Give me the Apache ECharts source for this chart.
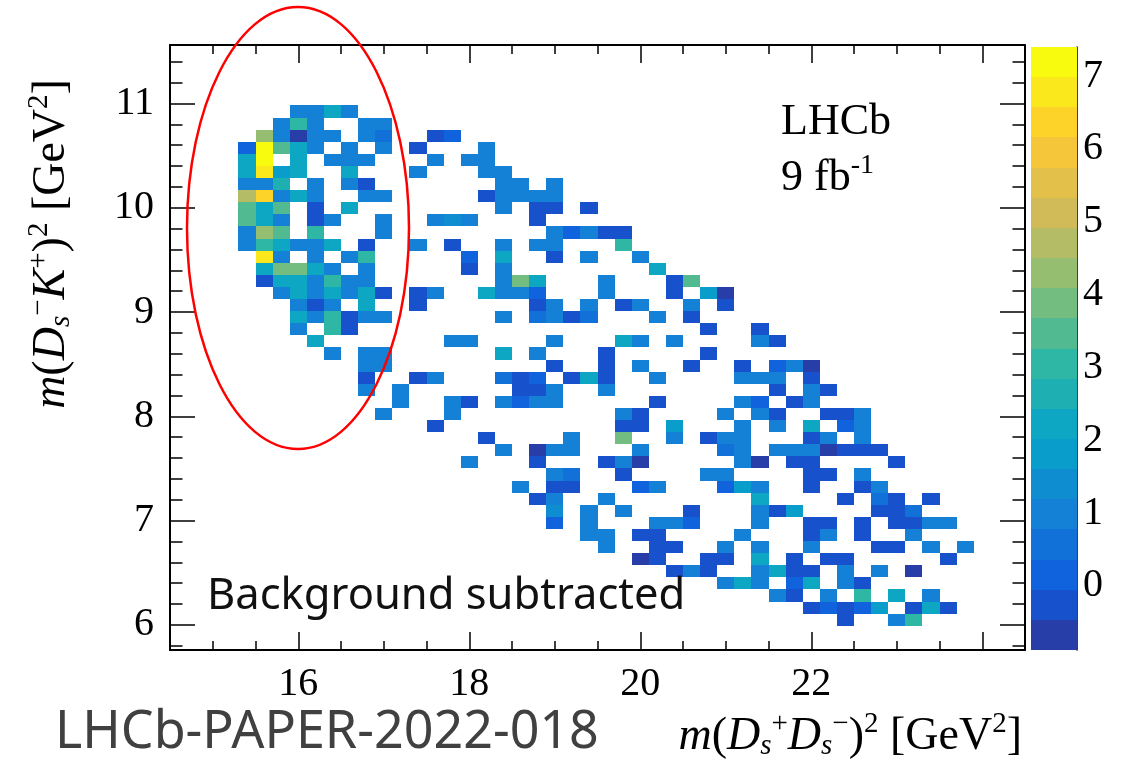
<!DOCTYPE html>
<html><head><meta charset="utf-8">
<script src="https://cdn.jsdelivr.net/npm/echarts@6/dist/echarts.min.js"></script>
<style>html,body{margin:0;padding:0;background:#fff}#c{width:1127px;height:762px}</style>
</head><body><div id="c"></div>
<script>
// ---------------- data ----------------
const X_RANGE = [14.5, 24.5];         // m^2(Ds+Ds-) axis range [GeV^2]
const Y_RANGE = [5.76, 11.56];        // m^2(Ds-K+) axis range [GeV^2]
const N_BINS_X = 50, N_BINS_Y = 50;
const Z_RANGE = [-0.88, 7.40];
const N_CONTOURS = 20;
const xTickLabels = [16, 18, 20, 22];
const xMajorTicks = [16, 18, 20, 22, 24];
const yTickLabels = [6, 7, 8, 9, 10, 11];
const zTickLabels = [0, 1, 2, 3, 4, 5, 6, 7];
const TOP_Y_BIN = 44;  // y-bin index of the first row below
// each row: [x-bin index, bin content], rows from y-bin 44 down to y-bin 2
const binContents = [
 [[7,1.0],[8,1.0],[9,2.2],[10,1.0]],
 [[6,1.0],[7,3.0],[8,1.0],[11,1.0],[12,1.0]],
 [[5,4.3],[6,1.0],[7,-0.6],[8,1.0],[9,1.0],[11,1.0],[12,0.6],[15,-0.3],[16,0.2]],
 [[4,0.2],[5,7.2],[6,3.4],[7,2.2],[8,1.0],[10,1.0],[12,1.0],[14,-0.3],[18,1.0]],
 [[4,2.2],[5,7.1],[7,2.2],[9,1.0],[10,1.0],[11,1.0],[15,1.0],[17,1.0],[18,1.0]],
 [[4,2.2],[5,6.7],[6,1.8],[7,2.2],[10,2.2],[14,1.0],[18,1.0],[19,1.0]],
 [[4,1.0],[5,1.0],[6,2.6],[8,1.0],[10,1.0],[11,-0.3],[19,1.0],[20,1.0],[22,1.0]],
 [[4,4.8],[5,6.3],[6,1.0],[7,2.2],[8,1.0],[11,1.0],[12,1.0],[18,-0.3],[19,1.0],[20,1.0],[21,1.0],[22,1.0]],
 [[4,3.6],[5,2.2],[6,3.4],[8,-0.3],[10,2.2],[19,1.0],[21,-0.3],[22,-0.3],[24,-0.3]],
 [[4,3.4],[5,2.2],[6,1.0],[8,-0.3],[9,1.0],[12,1.0],[15,1.0],[16,1.4],[17,1.0],[21,-0.3]],
 [[4,1.0],[5,4.3],[6,3.5],[8,3.0],[12,1.0],[22,1.0],[23,0.2],[24,1.0],[25,-0.3],[26,-0.3]],
 [[4,1.0],[5,3.0],[6,2.2],[7,1.0],[8,1.0],[9,2.2],[11,-0.3],[14,1.0],[16,-0.3],[19,1.0],[21,1.0],[22,1.0],[26,3.0]],
 [[5,6.8],[6,1.0],[8,1.0],[10,1.0],[11,3.0],[17,0.2],[19,2.2],[22,-0.3],[24,1.0],[27,1.0]],
 [[5,2.2],[6,3.8],[7,3.8],[8,2.2],[9,1.0],[11,1.0],[17,-0.3],[19,1.0],[28,2.2]],
 [[5,-0.3],[6,2.2],[7,2.2],[8,1.0],[9,3.0],[10,1.0],[11,1.0],[19,1.0],[20,3.7],[21,2.2],[25,1.0],[29,-0.3],[30,3.4]],
 [[6,1.0],[7,2.2],[8,1.0],[9,2.2],[10,1.0],[11,2.2],[12,-0.3],[14,-0.3],[15,1.0],[18,2.2],[19,1.0],[20,1.0],[21,0.2],[25,1.0],[29,-0.3],[31,1.8],[32,-0.6]],
 [[7,1.0],[8,-0.3],[9,1.0],[11,2.2],[14,-0.3],[21,-0.3],[22,1.0],[24,1.0],[26,-0.3],[27,1.0],[30,1.0],[32,-0.3]],
 [[7,2.2],[8,1.0],[9,3.0],[10,-0.3],[11,1.0],[12,1.0],[19,1.0],[21,0.6],[22,1.0],[23,-0.3],[24,0.6],[28,1.0],[30,-0.3]],
 [[7,1.0],[9,3.0],[10,-0.3],[31,-0.3],[34,-0.3]],
 [[8,2.2],[16,1.0],[17,1.0],[22,1.0],[26,2.2],[27,1.0],[29,1.0],[34,1.0],[35,-0.3]],
 [[9,1.0],[11,1.0],[12,1.0],[19,2.2],[21,1.0],[25,-0.3],[31,-0.3]],
 [[11,1.0],[12,1.0],[22,-0.3],[25,-0.3],[27,1.0],[30,-0.3],[33,-0.3],[35,0.2],[36,1.0],[37,-0.6]],
 [[11,-0.3],[14,-0.3],[15,1.0],[19,0.6],[20,-0.3],[21,0.2],[23,-0.3],[24,2.2],[25,-0.3],[28,1.0],[33,1.0],[34,1.0],[35,1.0],[37,-0.3]],
 [[11,1.0],[13,1.0],[20,-0.3],[21,-0.3],[22,1.0],[25,1.0],[35,-0.3],[37,1.0],[38,-0.3]],
 [[13,1.0],[16,1.0],[17,-0.3],[19,1.0],[20,0.2],[21,1.0],[22,1.0],[28,-0.3],[33,1.0],[34,0.2],[36,-0.3],[37,1.0]],
 [[12,1.0],[16,1.0],[26,1.0],[27,-0.3],[32,1.0],[34,1.0],[35,-0.3],[38,-0.3],[39,-0.3],[40,1.0]],
 [[15,-0.3],[26,-0.3],[27,-0.3],[29,1.8],[33,1.0],[35,1.0],[37,2.2],[39,0.2],[40,1.0]],
 [[18,-0.3],[23,1.0],[26,3.7],[29,1.0],[31,-0.3],[32,1.0],[33,1.0],[37,-0.3],[38,1.0],[40,1.0]],
 [[19,1.0],[21,-0.6],[22,1.0],[23,1.0],[27,1.0],[32,0.6],[33,1.0],[35,1.0],[36,1.0],[37,1.0],[38,-0.6],[39,-0.3],[40,-0.3],[41,-0.3]],
 [[17,1.0],[21,-0.3],[25,-0.3],[26,1.0],[27,-0.6],[33,1.0],[34,-0.6],[36,-0.3],[37,-0.3],[42,-0.3]],
 [[22,1.0],[23,0.6],[26,-0.3],[31,1.0],[32,1.0],[37,-0.3],[38,-0.3],[40,1.0]],
 [[20,1.0],[22,-0.3],[23,-0.3],[27,0.2],[28,1.0],[32,0.2],[33,1.8],[34,1.0],[37,-0.3],[40,-0.3],[41,1.0]],
 [[21,-0.3],[22,1.0],[25,1.0],[34,2.2],[39,-0.3],[41,0.6],[42,-0.3],[44,-0.3]],
 [[22,1.4],[24,1.0],[26,1.0],[30,-0.3],[34,1.0],[35,-0.3],[36,1.8],[41,-0.3],[42,-0.3],[43,0.6]],
 [[22,0.2],[24,1.0],[28,1.0],[29,1.0],[30,0.2],[34,1.0],[37,-0.3],[38,-0.3],[40,-0.3],[42,-0.3],[43,-0.3],[44,1.0],[45,1.0]],
 [[24,1.0],[25,1.0],[27,-0.3],[28,-0.3],[33,1.0],[37,-0.3],[38,1.0],[40,-0.3],[43,1.0]],
 [[25,1.0],[28,-0.3],[29,-0.3],[32,1.0],[34,1.0],[37,1.0],[41,-0.3],[42,-0.3],[44,1.0],[46,1.0]],
 [[27,-0.6],[28,-0.3],[31,-0.3],[32,-0.3],[34,2.2],[36,-0.3],[38,-0.3],[39,-0.3],[45,-0.3]],
 [[29,-0.3],[30,1.0],[31,-0.3],[34,1.0],[35,2.2],[36,-0.3],[37,-0.3],[39,1.0],[41,1.0],[43,-0.6]],
 [[32,1.0],[33,2.2],[34,1.0],[36,0.2],[37,2.4],[39,1.0],[40,-0.3]],
 [[35,1.0],[36,-0.3],[38,1.0],[40,3.0],[42,2.2],[44,1.0]],
 [[37,-0.3],[38,0.2],[39,-0.3],[40,0.2],[41,1.8],[43,-0.3],[44,2.2],[45,-0.3]],
 [[39,-0.3],[42,1.0],[43,3.0]]
];

// ---------------- helpers ----------------
const DX = (X_RANGE[1] - X_RANGE[0]) / N_BINS_X;
const DY = (Y_RANGE[1] - Y_RANGE[0]) / N_BINS_Y;
const cells = [];
binContents.forEach((row, k) => {
  const yb = TOP_Y_BIN - k;
  row.forEach(([xb, z]) => {
    cells.push([X_RANGE[0] + xb * DX, Y_RANGE[0] + yb * DY,
                X_RANGE[0] + (xb + 1) * DX, Y_RANGE[0] + (yb + 1) * DY, z]);
  });
});

// ROOT kBird palette
const birdStops = [0, 0.125, 0.25, 0.375, 0.5, 0.625, 0.75, 0.875, 1];
const birdR = [0.2082, 0.0592, 0.0780, 0.0232, 0.1802, 0.5301, 0.8186, 0.9956, 0.9764];
const birdG = [0.1664, 0.3599, 0.5041, 0.6419, 0.7178, 0.7492, 0.7328, 0.7862, 0.9832];
const birdB = [0.5293, 0.8684, 0.8385, 0.7914, 0.6425, 0.4662, 0.3499, 0.1968, 0.0539];
function bird(f) {
  let i = 0;
  while (i < birdStops.length - 2 && f > birdStops[i + 1]) i++;
  const t = (f - birdStops[i]) / (birdStops[i + 1] - birdStops[i]);
  const c = a => Math.round(255 * (a[i] + (a[i + 1] - a[i]) * t));
  return 'rgb(' + c(birdR) + ',' + c(birdG) + ',' + c(birdB) + ')';
}
const DZ = (Z_RANGE[1] - Z_RANGE[0]) / N_CONTOURS;
const bands = [];
for (let k = 0; k < N_CONTOURS; k++) {
  const idx = Math.floor((k + 0.99) * 255 / N_CONTOURS);
  bands.push({ lo: Z_RANGE[0] + k * DZ, hi: Z_RANGE[0] + (k + 1) * DZ, color: bird(Math.min(1, idx / 254)) });
}
const barData = bands.map(b => [0, b.lo, 1, b.hi, (b.lo + b.hi) / 2]);

function minorTicks(lo, hi, step, majors) {
  const out = [];
  for (let v = Math.ceil(lo / step - 1e-9) * step; v <= hi + 1e-9; v += step) {
    const r = Math.round(v * 1000) / 1000;
    if (r <= lo + 1e-6 || r >= hi - 1e-6) continue;
    if (!majors.some(m => Math.abs(m - r) < 1e-6)) out.push(r);
  }
  return out;
}
const xMinor = minorTicks(X_RANGE[0], X_RANGE[1], 0.5, xMajorTicks);
const yMinor = minorTicks(Y_RANGE[0], Y_RANGE[1], 0.2, yTickLabels);

const SERIF = 'Liberation Serif';
const BLACK = '#000';

function xAx(pos, ticks, len, withLine, labels) {
  return {
    gridIndex: 0, type: 'value', position: pos, min: X_RANGE[0], max: X_RANGE[1],
    axisLine: { show: withLine, onZero: false, lineStyle: { color: BLACK, width: 2 } },
    axisTick: { show: true, inside: true, length: len, customValues: ticks, lineStyle: { color: BLACK, width: 1.5 } },
    axisLabel: labels ? { show: true, customValues: labels, margin: 14, fontFamily: SERIF, fontSize: 40, color: BLACK } : { show: false },
    splitLine: { show: false }
  };
}
function yAx(pos, ticks, len, withLine, labels) {
  return {
    gridIndex: 0, type: 'value', position: pos, min: Y_RANGE[0], max: Y_RANGE[1],
    axisLine: { show: withLine, onZero: false, lineStyle: { color: BLACK, width: 2 } },
    axisTick: { show: true, inside: true, length: len, customValues: ticks, lineStyle: { color: BLACK, width: 1.5 } },
    axisLabel: labels ? { show: true, customValues: labels, margin: 16, fontFamily: SERIF, fontSize: 40, color: BLACK } : { show: false },
    splitLine: { show: false }
  };
}

function renderRect(params, api) {
  const a = api.coord([api.value(0), api.value(3)]);
  const b = api.coord([api.value(2), api.value(1)]);
  const x0 = Math.round(a[0]), y0 = Math.round(a[1]);
  const x1 = Math.round(b[0]), y1 = Math.round(b[1]);
  return { type: 'rect', shape: { x: x0, y: y0, width: x1 - x0, height: y1 - y0 },
           style: { fill: api.visual('color') } };
}

const titleRich = {
  it: { fontFamily: SERIF, fontStyle: 'italic', fontSize: 46, color: BLACK },
  n: { fontFamily: SERIF, fontSize: 46, color: BLACK },
  sub: { fontFamily: SERIF, fontStyle: 'italic', fontSize: 29, color: BLACK, padding: [18, 0, 0, 0] },
  sup: { fontFamily: SERIF, fontSize: 29, color: BLACK, padding: [0, 0, 26, 0] }
};

const chart = echarts.init(document.getElementById('c'), null, { renderer: 'canvas' });
chart.setOption({
  animation: false,
  backgroundColor: '#fff',
  grid: [
    { left: 170, top: 45, width: 855, height: 605, containLabel: false },
    { left: 1031, top: 47, width: 46, height: 603, containLabel: false }
  ],
  xAxis: [
    xAx('bottom', xMajorTicks, 18, true, xTickLabels),
    xAx('bottom', xMinor, 9, false, null),
    xAx('top', xMajorTicks, 18, true, null),
    xAx('top', xMinor, 9, false, null),
    { gridIndex: 1, type: 'value', min: 0, max: 1, show: false }
  ],
  yAxis: [
    yAx('left', yTickLabels, 25, true, yTickLabels),
    yAx('left', yMinor, 12.5, false, null),
    yAx('right', yTickLabels, 25, true, null),
    yAx('right', yMinor, 12.5, false, null),
    {
      gridIndex: 1, type: 'value', position: 'right', min: Z_RANGE[0], max: Z_RANGE[1],
      axisLine: { show: true, onZero: false, lineStyle: { color: BLACK, width: 1.5 } },
      axisTick: { show: true, inside: true, length: 16, customValues: zTickLabels, lineStyle: { color: BLACK, width: 1.5 } },
      axisLabel: { show: true, customValues: zTickLabels, margin: 6, fontFamily: SERIF, fontSize: 40, color: BLACK },
      splitLine: { show: false }
    }
  ],
  visualMap: {
    type: 'piecewise', show: false, dimension: 4, seriesIndex: [0, 1],
    pieces: bands.map((b, k) => k === bands.length - 1
      ? { gte: b.lo, lte: b.hi + 1, color: b.color }
      : (k === 0 ? { gte: b.lo - 1, lt: b.hi, color: b.color } : { gte: b.lo, lt: b.hi, color: b.color }))
  },
  series: [
    { type: 'custom', xAxisIndex: 0, yAxisIndex: 0, renderItem: renderRect,
      encode: { x: [0, 2], y: [1, 3] }, data: cells, z: 2 },
    { type: 'custom', xAxisIndex: 4, yAxisIndex: 4, renderItem: renderRect,
      encode: { x: [0, 2], y: [1, 3] }, data: barData, z: 2 }
  ],
  graphic: [
    { type: 'ellipse', shape: { cx: 298, cy: 228, rx: 111, ry: 221 },
      style: { fill: 'none', stroke: '#ff0000', lineWidth: 2.5 }, z: 100 },
    { type: 'text', x: 781, y: 122, z: 100,
      style: { text: 'LHCb', font: '44px "Liberation Serif"', fill: BLACK, textVerticalAlign: 'middle' } },
    { type: 'text', x: 781, y: 178, z: 100,
      style: { text: '{n|9 fb}{sup|-1}', textVerticalAlign: 'middle',
        rich: { n: { fontFamily: SERIF, fontSize: 44, color: BLACK }, sup: { fontFamily: SERIF, fontSize: 28, color: BLACK, padding: [0, 0, 24, 0] } } } },
    { type: 'text', x: 207, y: 597, z: 100,
      style: { text: 'Background subtracted', font: '43.5px "Noto Sans"', fill: '#111', textVerticalAlign: 'middle' } },
    { type: 'text', x: 55, y: 733, z: 100,
      style: { text: 'LHCb-PAPER-2022-018', font: '52px "Noto Sans"', fill: '#404040', textVerticalAlign: 'middle' } },
    { type: 'text', x: 1022, y: 737, z: 100,
      style: { text: '{it|m}{n|(}{it|D}{sub|s}{sup|+}{it|D}{sub|s}{sup|−}{n|)}{sup|2}{n| [GeV}{sup|2}{n|]}',
        textAlign: 'right', textVerticalAlign: 'middle', rich: titleRich } },
    { type: 'text', x: 52, y: 244, rotation: Math.PI / 2, z: 100,
      style: { text: '{it|m}{n|(}{it|D}{sub|s}{sup|−}{it|K}{sup|+}{n|)}{sup|2}{n| [GeV}{sup|2}{n|]}',
        textAlign: 'center', textVerticalAlign: 'middle', rich: titleRich } }
  ]
});
</script></body></html>
